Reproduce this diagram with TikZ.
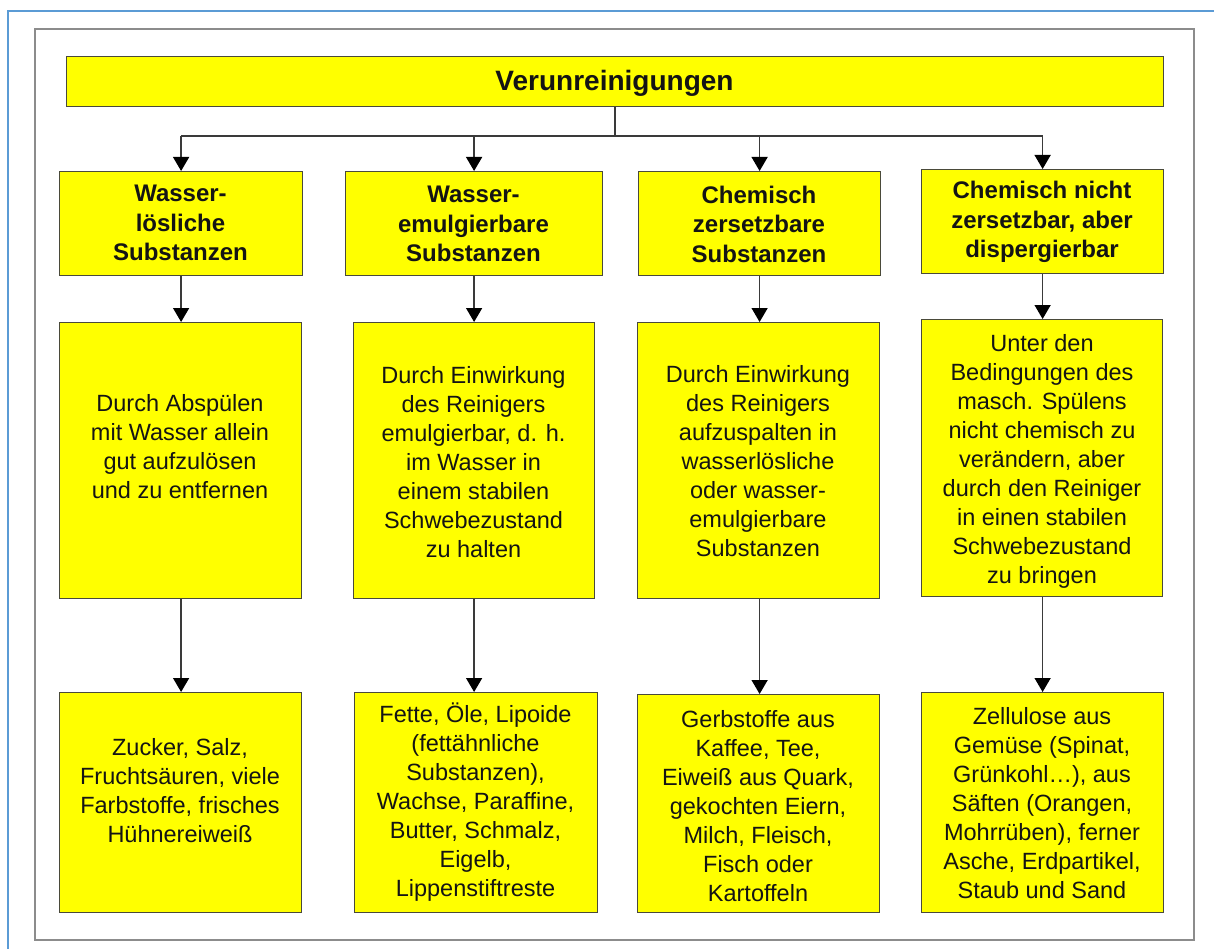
\documentclass[tikz,border=0pt]{standalone}
\usepackage{fontspec}
\setmainfont{Liberation Sans}
\usetikzlibrary{arrows.meta}
\definecolor{boxyellow}{HTML}{FFFF00}
\definecolor{boxline}{HTML}{4A4A3A}
\definecolor{connline}{HTML}{3A3A3A}
\definecolor{framegray}{HTML}{8C8C8C}
\definecolor{frameblue}{HTML}{5B9BD5}
\definecolor{inktext}{HTML}{141414}
\begin{document}
\begin{tikzpicture}[x=1pt,y=-1pt,
  ybox/.style={draw=boxline, fill=boxyellow, line width=1.2pt, inner sep=0pt, anchor=north west},
  btext/.style={font=\fontsize{23.5}{29}\selectfont, align=center, text=inktext, inner sep=0pt},
  htext/.style={font=\fontsize{24}{29.5}\selectfont\bfseries, align=center, text=inktext, inner sep=0pt},
  ttext/.style={font=\fontsize{28}{32}\selectfont\bfseries, text=inktext, inner sep=0pt},
  conn/.style={draw=connline, line width=1.4pt},
  arr/.style={conn, -{Triangle[width=16pt,length=14pt,fill=black,color=black]}}]
\useasboundingbox (0,0) rectangle (1214,949);
% frames
\draw[frameblue, line width=2pt] (8,949) -- (8,11) -- (1214,11);
\draw[framegray, line width=2pt] (35,29) rectangle (1194,940);
% title
\node[ybox, minimum width=1097pt, minimum height=50pt] (title) at (66,56) {};
\node[ttext] (titlet) at (614.5,83) {Verunreinigungen};
% row 1
\node[ybox, minimum width=243pt, minimum height=104pt] (h1) at (59,171) {};
\node[ybox, minimum width=257pt, minimum height=104pt] (h2) at (345,171) {};
\node[ybox, minimum width=242pt, minimum height=104pt] (h3) at (638,171) {};
\node[ybox, minimum width=242pt, minimum height=104pt] (h4) at (921,169) {};
\node[htext] (h1t) at (180.5,223) {Wasser-\\lösliche\\Substanzen};
\node[htext] (h2t) at (473.5,224) {Wasser-\\emulgierbare\\Substanzen};
\node[htext] (h3t) at (759,224) {Chemisch\\zersetzbare\\Substanzen};
\node[htext] (h4t) at (1042,222) {Chemisch nicht\\zersetzbar, aber\\dispergierbar};
% row 2
\node[ybox, minimum width=242pt, minimum height=276pt] (m1) at (59,322) {};
\node[ybox, minimum width=241pt, minimum height=276pt] (m2) at (353,322) {};
\node[ybox, minimum width=242pt, minimum height=276pt] (m3) at (637,322) {};
\node[ybox, minimum width=241pt, minimum height=277pt] (m4) at (921,319) {};
\node[btext] (m1t) at (180,447) {Durch Abspülen\\mit Wasser allein\\gut aufzulösen\\und zu entfernen};
\node[btext] (m2t) at (473.5,462) {Durch Einwirkung\\des Reinigers\\emulgierbar, d. h.\\im Wasser in\\einem stabilen\\Schwebezustand\\zu halten};
\node[btext] (m3t) at (758,461) {Durch Einwirkung\\des Reinigers\\aufzuspalten in\\wasserlösliche\\oder wasser-\\emulgierbare\\Substanzen};
\node[btext] (m4t) at (1042,461) {Unter den\\Bedingungen des\\masch. Spülens\\nicht chemisch zu\\verändern, aber\\durch den Reiniger\\in einen stabilen\\Schwebezustand\\zu bringen};
% row 3
\node[ybox, minimum width=242pt, minimum height=220pt] (b1) at (59,692) {};
\node[ybox, minimum width=243pt, minimum height=220pt] (b2) at (354,692) {};
\node[ybox, minimum width=242pt, minimum height=218pt] (b3) at (637,694) {};
\node[ybox, minimum width=242pt, minimum height=220pt] (b4) at (921,692) {};
\node[btext] (b1t) at (180,791) {Zucker, Salz,\\Fruchtsäuren, viele\\Farbstoffe, frisches\\Hühnereiweiß};
\node[btext] (b2t) at (475.5,802) {Fette, Öle, Lipoide\\(fettähnliche\\Substanzen),\\Wachse, Paraffine,\\Butter, Schmalz,\\Eigelb,\\Lippenstiftreste};
\node[btext] (b3t) at (758,806) {Gerbstoffe aus\\Kaffee, Tee,\\Eiweiß aus Quark,\\gekochten Eiern,\\Milch, Fleisch,\\Fisch oder\\Kartoffeln};
\node[btext] (b4t) at (1042,803) {Zellulose aus\\Gemüse (Spinat,\\Grünkohl…), aus\\Säften (Orangen,\\Mohrrüben), ferner\\Asche, Erdpartikel,\\Staub und Sand};
% connectors
\coordinate (stem) at (615,106);
\coordinate (bus) at (615,136);
\draw[conn] (title.south -| stem) -- (bus);
\draw[conn] (bus -| h1.north) -- (bus -| h4.north);
\foreach \k in {1,2,3,4} {
  \draw[arr] (bus -| h\k.north) -- (h\k.north);
  \draw[arr] (h\k.south) -- (h\k.south |- m\k.north);
  \draw[arr] (m\k.south -| h\k.south) -- (h\k.south |- b\k.north);
}
\end{tikzpicture}
\end{document}
